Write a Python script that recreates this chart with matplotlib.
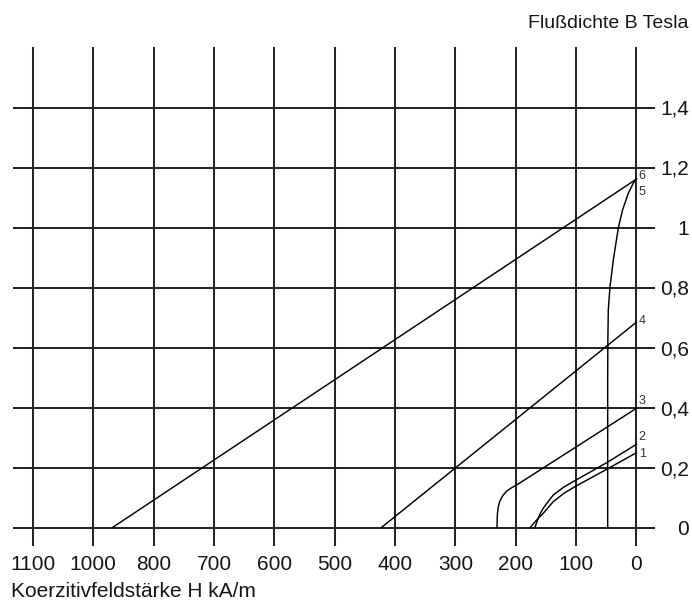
import matplotlib
matplotlib.use("Agg")
import matplotlib.pyplot as plt
from matplotlib.transforms import blended_transform_factory

plt.rcParams['font.family'] = ['Liberation Sans', 'DejaVu Sans']

# ---- data ----
x_grid = [1000, 900, 800, 700, 600, 500, 400, 300, 200, 100, 0]
x_tick_labels = ["1100", "1000", "800", "700", "600", "500", "400", "300", "200", "100", "0"]
y_grid = [0, 0.2, 0.4, 0.6, 0.8, 1.0, 1.2, 1.4]
y_tick_labels = ["0", "0,2", "0,4", "0,6", "0,8", "1", "1,2", "1,4"]

curve1_H = [176.5, 172, 168, 161, 154.4, 146, 137.8, 120, 100, 49, 0]
curve1_B = [0, 0.01, 0.02, 0.035, 0.048, 0.068, 0.087, 0.115, 0.139, 0.195, 0.25]

curve2_H = [168.2, 166, 163, 159, 154.4, 146, 137.8, 120, 100, 49, 0]
curve2_B = [0, 0.014, 0.03, 0.049, 0.065, 0.088, 0.109, 0.136, 0.159, 0.217, 0.278]

curve3_H = [231, 230.8, 230.2, 229, 227, 224.5, 222, 218.5, 215, 207, 198, 0]
curve3_B = [0, 0.03, 0.05, 0.068, 0.085, 0.096, 0.105, 0.114, 0.122, 0.133, 0.143, 0.398]

curve4_H = [423, 0]
curve4_B = [0, 0.685]

curve5_H = [47.7, 47.7, 47.4, 46.7, 44, 38.4, 30, 23, 13.5, 5.3, 0]
curve5_B = [0, 0.5, 0.62, 0.725, 0.8, 0.892, 1.0, 1.059, 1.115, 1.148, 1.163]

curve6_H = [868.6, 0]
curve6_B = [0, 1.162]

curve_labels = ["1", "2", "3", "4", "5", "6"]
curve_label_B = [0.247, 0.302, 0.422, 0.689, 1.119, 1.172]

y_title = "Flußdichte B Tesla"
x_title = "Koerzitivfeldstärke H kA/m"

# ---- figure ----
W, Hpx = 692, 608
fig = plt.figure(figsize=(W / 100, Hpx / 100), dpi=100)
fig.patch.set_facecolor("white")

left_px, right_px, top_px, bottom_px = 13, 655, 46.7, 546
ax = fig.add_axes([left_px / W, (Hpx - bottom_px) / Hpx,
                   (right_px - left_px) / W, (bottom_px - top_px) / Hpx])
ax.set_xlim(1033, -30.7)
ax.set_ylim(-0.061, 1.603)
ax.axis("off")

grid_color = "#262626"
for xv in x_grid:
    ax.axvline(xv, color=grid_color, lw=1.45, zorder=1)
for yv in y_grid:
    ax.axhline(yv, color=grid_color, lw=1.45, zorder=1)

curves = [(curve1_H, curve1_B), (curve2_H, curve2_B), (curve3_H, curve3_B),
          (curve4_H, curve4_B), (curve5_H, curve5_B), (curve6_H, curve6_B)]
for hx, by in curves:
    ax.plot(hx, by, color="black", lw=1.05, zorder=3, solid_joinstyle="round")

for lab, by in zip(curve_labels, curve_label_B):
    ax.text(-3.5, by, lab, fontsize=9, ha="left", va="center", color="#333333")

txt_color = "#161616"
fs = 15
tr_x = blended_transform_factory(ax.transData, fig.transFigure)
for xv, lab in zip(x_grid, x_tick_labels):
    ax.text(xv, (Hpx - 569.5) / Hpx, lab, transform=tr_x, ha="center",
            va="baseline", fontsize=fs, color=txt_color)

tr_y = blended_transform_factory(fig.transFigure, ax.transData)
for yv, lab in zip(y_grid, y_tick_labels):
    ax.text(689 / W, yv - 0.0245, lab, transform=tr_y, ha="right",
            va="baseline", fontsize=fs, color=txt_color)

fig.text(688 / W, (Hpx - 27.5) / Hpx, y_title, ha="right", va="baseline",
         fontsize=14, color=txt_color)
fig.text(11 / W, (Hpx - 597) / Hpx, x_title, ha="left", va="baseline",
         fontsize=15, color=txt_color)

fig.savefig("out.png", dpi=100, facecolor="white")
